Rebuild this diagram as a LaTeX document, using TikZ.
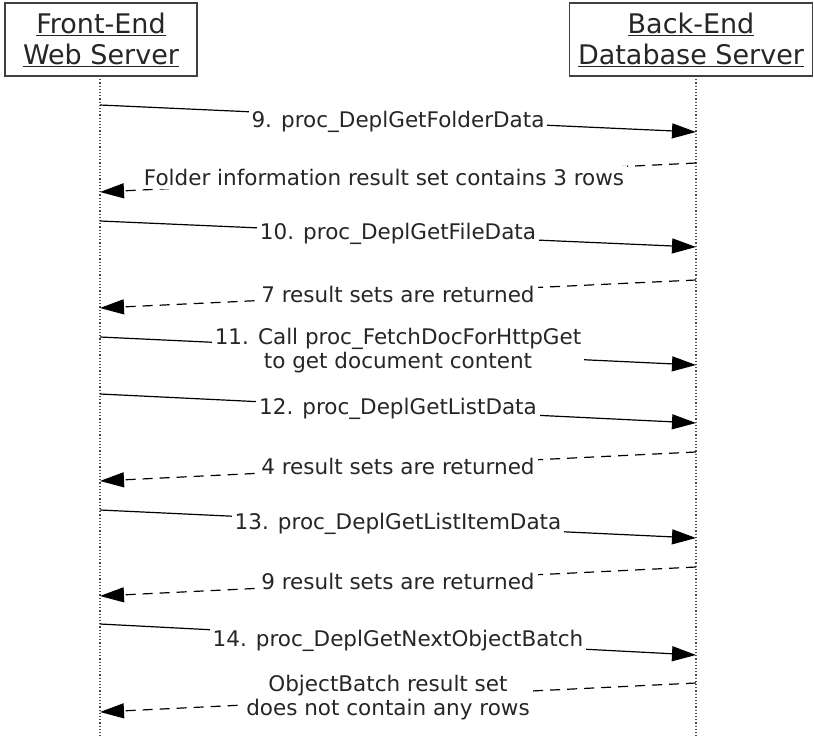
\documentclass[tikz,border=0pt]{standalone}
\usepackage{fontspec}
\setmainfont{DejaVu Sans}
\usetikzlibrary{arrows.meta}
\begin{document}
\begin{tikzpicture}[x=1pt,y=-1pt,
  hdr/.style={draw=black!75, line width=1.3pt, align=center, inner sep=0pt,
    font=\fontsize{27}{31}\selectfont, text=black!85},
  life/.style={draw=black!70, line width=1.2pt, dotted},
  msg/.style={draw=black, line width=1.2pt, -{Triangle[length=24pt,width=15pt]}},
  ret/.style={msg, dash pattern=on 10pt off 7pt},
  lbl/.style={fill=white, inner sep=3pt, align=center, text=black!85,
    font=\fontsize{21.5}{24}\selectfont}]
\useasboundingbox (0,0) rectangle (814,736);
\fill[white] (0,0) rectangle (814,736);

\node[hdr, minimum width=192pt, minimum height=73pt] (fe) at (101,39.5)
  {\underline{Front-End}\\\underline{Web Server}};
\node[hdr, minimum width=243pt, minimum height=73pt] (be) at (691,39.5)
  {\underline{Back-End}\\\underline{Database Server}};

\coordinate (lt) at (100,76);  \coordinate (lb) at (100,736);
\coordinate (rt) at (696,76);  \coordinate (rb) at (696,736);
\draw[life] (lt) -- (lb);
\draw[life] (rt) -- (rb);

\coordinate (l1) at (100,105); \coordinate (r1) at (696,132);
\coordinate (r2) at (696,163); \coordinate (l2) at (100,192);
\coordinate (l3) at (100,221); \coordinate (r3) at (696,247);
\coordinate (r4) at (696,280); \coordinate (l4) at (100,308);
\coordinate (l5) at (100,337); \coordinate (r5) at (696,365);
\coordinate (l6) at (100,394); \coordinate (r6) at (696,423);
\coordinate (r7) at (696,452); \coordinate (l7) at (100,481);
\coordinate (l8) at (100,510); \coordinate (r8) at (696,538);
\coordinate (r9) at (696,567); \coordinate (l9) at (100,596);
\coordinate (l10) at (100,624); \coordinate (r10) at (696,655);
\coordinate (r11) at (696,683); \coordinate (l11) at (100,712);

\draw[msg] (l1) -- node[lbl, yshift=-3pt] (t1) {9. proc\_DeplGetFolderData} (r1);
\draw[ret] (r2) -- node[lbl, xshift=-14pt] (t2) {Folder information result set contains 3 rows} (l2);
\draw[msg] (l3) -- node[lbl] (t3) {10. proc\_DeplGetFileData} (r3);
\draw[ret] (r4) -- node[lbl] (t4) {7 result sets are returned} (l4);
\draw[msg] (l5) -- node[lbl] (t5) {11. Call proc\_FetchDocForHttpGet\\to get document content} (r5);
\draw[msg] (l6) -- node[lbl] (t6) {12. proc\_DeplGetListData} (r6);
\draw[ret] (r7) -- node[lbl] (t7) {4 result sets are returned} (l7);
\draw[msg] (l8) -- node[lbl] (t8) {13. proc\_DeplGetListItemData} (r8);
\draw[ret] (r9) -- node[lbl] (t9) {9 result sets are returned} (l9);
\draw[msg] (l10) -- node[lbl, yshift=-1pt] (t10) {14. proc\_DeplGetNextObjectBatch} (r10);
\draw[ret] (r11) -- node[lbl, xshift=-10pt] (t11) {ObjectBatch result set\\does not contain any rows} (l11);
\end{tikzpicture}
\end{document}
